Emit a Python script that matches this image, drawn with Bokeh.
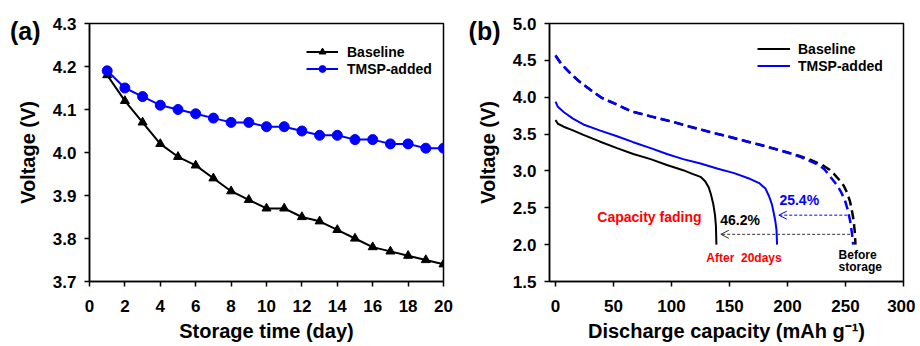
from bokeh.plotting import figure
from bokeh.layouts import row
from bokeh.models import (Range1d, FixedTicker, PrintfTickFormatter, Legend,
                          LegendItem, Label, Arrow, OpenHead, LinearAxis)
from bokeh.embed import file_html
from bokeh.resources import INLINE

FONT = "Liberation Sans"

# ---------------- panel (a) data ----------------
days = list(range(1, 21))
baseline_voltage = [4.18, 4.12, 4.07, 4.02, 3.99, 3.97, 3.94, 3.91, 3.89, 3.87,
                    3.87, 3.85, 3.84, 3.82, 3.80, 3.78, 3.77, 3.76, 3.75, 3.74]
tmsp_voltage = [4.19, 4.15, 4.13, 4.11, 4.10, 4.09, 4.08, 4.07, 4.07, 4.06,
                4.06, 4.05, 4.04, 4.04, 4.03, 4.03, 4.02, 4.02, 4.01, 4.01]
a_xticks = [0, 2, 4, 6, 8, 10, 12, 14, 16, 18, 20]
a_yticks = [3.7, 3.8, 3.9, 4.0, 4.1, 4.2, 4.3]

# ---------------- panel (b) data ----------------
before_tmsp_cap = [0, 5, 13, 20, 30, 40, 53, 65, 82, 100, 116, 135, 148, 165,
                   182, 200, 211, 220, 228, 232, 237, 242, 246, 249.5, 252,
                   254, 255.5, 256.6]
before_tmsp_v = [4.57, 4.45, 4.32, 4.22, 4.10, 3.99, 3.90, 3.81, 3.74, 3.67,
                 3.60, 3.52, 3.47, 3.40, 3.33, 3.25, 3.19, 3.13, 3.07, 3.02,
                 2.92, 2.82, 2.72, 2.60, 2.47, 2.32, 2.16, 2.00]
before_base_cap = [0, 5, 13, 20, 30, 40, 53, 65, 82, 100, 116, 135, 148, 165,
                   182, 200, 211, 220, 230, 236, 240, 244.5, 248.5, 251.5, 254,
                   256, 257, 258, 258.6]
before_base_v = [4.56, 4.45, 4.32, 4.22, 4.10, 3.99, 3.90, 3.81, 3.74, 3.67,
                 3.60, 3.52, 3.47, 3.40, 3.33, 3.25, 3.20, 3.15, 3.08, 3.02,
                 2.96, 2.88, 2.80, 2.70, 2.58, 2.42, 2.33, 2.17, 2.00]
after_tmsp_cap = [0, 2, 7, 15, 24, 38, 53, 67, 82, 96, 110, 125, 140, 154, 168,
                  176, 181, 184, 186.5, 188, 189.5, 190.5, 191]
after_tmsp_v = [3.94, 3.87, 3.80, 3.71, 3.63, 3.55, 3.47, 3.39, 3.31, 3.23,
                3.16, 3.10, 3.03, 2.97, 2.89, 2.83, 2.76, 2.66, 2.55, 2.44,
                2.32, 2.20, 2.00]
after_base_cap = [0, 2, 7, 15, 24, 38, 53, 67, 82, 96, 110, 118, 125, 129, 132,
                  134, 136, 137.5, 138.3, 138.7]
after_base_v = [3.69, 3.64, 3.60, 3.55, 3.49, 3.40, 3.31, 3.23, 3.16, 3.08,
                3.01, 2.96, 2.92, 2.86, 2.78, 2.68, 2.55, 2.40, 2.25, 2.00]
b_xticks = [0, 50, 100, 150, 200, 250, 300]
b_yticks = [1.5, 2.0, 2.5, 3.0, 3.5, 4.0, 4.5, 5.0]

fade_tmsp_label = "25.4%"
fade_base_label = "46.2%"


def style(p, xticks, yticks, xlabel, ylabel, yfmt):
    p.xaxis.ticker = FixedTicker(ticks=xticks)
    p.yaxis.ticker = FixedTicker(ticks=yticks)
    p.yaxis.formatter = PrintfTickFormatter(format=yfmt)
    p.xaxis.axis_label = xlabel
    p.yaxis.axis_label = ylabel
    for ax in (p.xaxis[0], p.yaxis[0]):
        ax.axis_line_color = "black"
        ax.axis_line_width = 1.5
        ax.major_tick_line_color = "black"
        ax.major_tick_line_width = 1.5
        ax.major_tick_out = 5
        ax.major_tick_in = 0
        ax.minor_tick_line_color = None
        ax.major_label_text_font = FONT
        ax.major_label_text_font_size = "17px"
        ax.major_label_text_font_style = "bold"
        ax.major_label_text_color = "black"
        ax.axis_label_text_font = FONT
        ax.axis_label_text_font_size = "20px"
        ax.axis_label_text_font_style = "bold"
        ax.axis_label_text_color = "black"
    p.xaxis.major_label_standoff = 13
    p.xaxis.axis_label_standoff = 5
    p.yaxis.major_label_standoff = 8
    p.yaxis.axis_label_standoff = 11
    p.xgrid.visible = False
    p.ygrid.visible = False
    p.outline_line_color = "black"
    p.outline_line_width = 1.5
    p.outline_line_alpha = 1.0
    p.background_fill_color = "white"
    p.border_fill_color = "white"


def panel_tag(p, text, y_pos):
    # an outer, invisible left axis whose only tick label is the panel tag
    tag = LinearAxis(ticker=FixedTicker(ticks=[y_pos]),
                     formatter=PrintfTickFormatter(format=text),
                     axis_line_color=None, major_tick_line_color=None,
                     minor_tick_line_color=None, major_tick_out=0, major_tick_in=0,
                     major_label_standoff=-27,
                     major_label_text_font=FONT, major_label_text_font_size="25px",
                     major_label_text_font_style="bold", major_label_text_color="black")
    p.add_layout(tag, "left")


# ---------------- panel (a) ----------------
pa = figure(width=460, height=346, x_range=Range1d(0, 20), y_range=Range1d(3.7, 4.3),
            output_backend="svg", toolbar_location=None,
            min_border_left=89, min_border_right=17, min_border_top=23, min_border_bottom=65)
style(pa, a_xticks, a_yticks, "Storage time (day)", "Voltage (V)", "%.1f")

la = pa.line(days, baseline_voltage, line_color="black", line_width=2)
sa = pa.scatter(days, baseline_voltage, marker="triangle", size=9,
                fill_color="black", line_color="black")
lb = pa.line(days, tmsp_voltage, line_color="#0000ff", line_width=2)
sb = pa.scatter(days, tmsp_voltage, marker="circle", size=10,
                fill_color="#0000ff", line_color="#0000ff")

leg_a = Legend(items=[LegendItem(label="Baseline", renderers=[la, sa]),
                      LegendItem(label="TMSP-added", renderers=[lb, sb])],
               location=(217, 204), padding=0, margin=0, spacing=0,
               glyph_width=32, glyph_height=17, label_height=17, label_standoff=9,
               label_text_font=FONT, label_text_font_size="14px",
               label_text_font_style="bold", label_text_color="black",
               background_fill_alpha=0, border_line_alpha=0)
pa.add_layout(leg_a)
panel_tag(pa, "(a)", 4.2837)

# ---------------- panel (b) ----------------
pb = figure(width=455, height=346, x_range=Range1d(-5.2, 300), y_range=Range1d(1.5, 5.0),
            output_backend="svg", toolbar_location=None,
            min_border_left=89, min_border_right=12, min_border_top=23, min_border_bottom=65)
style(pb, b_xticks, b_yticks, "Discharge capacity (mAh g\u207b\u00b9)", "Voltage (V)", "%.1f")

pb.line(before_base_cap, before_base_v, line_color="black", line_width=2.5, line_dash="9 5")
pb.line(before_tmsp_cap, before_tmsp_v, line_color="#0000ff", line_width=2.5, line_dash="9 5")
rb1 = pb.line(after_base_cap, after_base_v, line_color="black", line_width=2)
rb2 = pb.line(after_tmsp_cap, after_tmsp_v, line_color="#0000ff", line_width=2)

pb.add_layout(Arrow(end=OpenHead(size=8, line_color="#0000ff", line_width=1),
                    x_start=251.5, y_start=2.40, x_end=192.5, y_end=2.40,
                    line_color="#0000ff", line_width=1, line_dash="3 2"))
pb.add_layout(Arrow(end=OpenHead(size=8, line_color="#333333", line_width=1),
                    x_start=254, y_start=2.14, x_end=142.5, y_end=2.14,
                    line_color="#333333", line_width=1, line_dash="3 2"))

def lab(x, y, text, color, size):
    pb.add_layout(Label(x=x, y=y, text=text, text_font=FONT, text_font_size=size,
                        text_font_style="bold", text_color=color,
                        text_align="left", text_baseline="middle"))

lab(193, 2.60, fade_tmsp_label, "#0000ff", "14px")
lab(142, 2.33, fade_base_label, "black", "14px")
lab(36, 2.37, "Capacity fading", "#ff0000", "14px")
lab(130, 1.82, "After\u00a0\u00a020days", "#ff0000", "12px")
lab(244, 1.86, "Before", "black", "12px")
lab(244, 1.69, "storage", "black", "12px")

leg_b = Legend(items=[LegendItem(label="Baseline", renderers=[rb1]),
                      LegendItem(label="TMSP-added", renderers=[rb2])],
               location=(208, 207), padding=0, margin=0, spacing=0,
               glyph_width=33, glyph_height=17, label_height=17, label_standoff=8,
               label_text_font=FONT, label_text_font_size="14px",
               label_text_font_style="bold", label_text_color="black",
               background_fill_alpha=0, border_line_alpha=0)
pb.add_layout(leg_b)
panel_tag(pb, "(b)", 4.905)

layout = row(pa, pb)
open("out.html", "w").write(file_html(layout, INLINE))
